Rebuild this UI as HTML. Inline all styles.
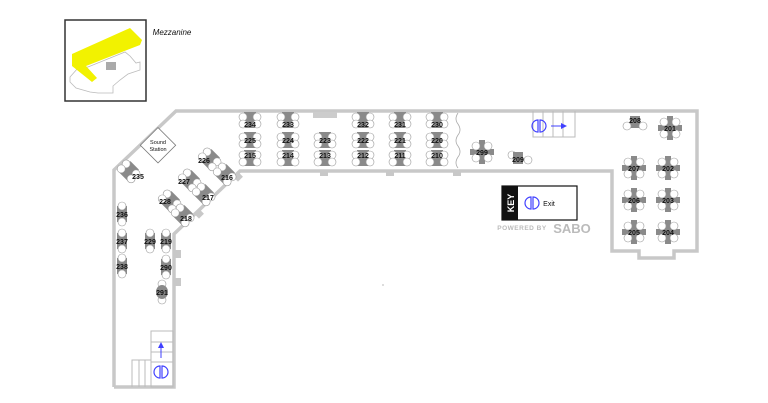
<!DOCTYPE html>
<html><head><meta charset="utf-8"><style>
html,body{margin:0;padding:0;background:#fff;width:768px;height:403px;overflow:hidden}
svg{display:block}
text{font-family:"Liberation Sans",sans-serif;font-size:7px;font-weight:bold;fill:#111;text-anchor:middle}
</style></head><body>
<svg width="768" height="403" viewBox="0 0 768 403" xmlns="http://www.w3.org/2000/svg">
<defs>
<g id="t"><rect x="-6" y="-8" width="12" height="16" fill="#8a8a8a"/><circle cx="-7" cy="-3" r="4" fill="#fff" stroke="#999" stroke-width=".6"/><circle cx="7" cy="-3" r="4" fill="#fff" stroke="#999" stroke-width=".6"/><circle cx="-7" cy="4" r="4" fill="#fff" stroke="#999" stroke-width=".6"/><circle cx="7" cy="4" r="4" fill="#fff" stroke="#999" stroke-width=".6"/></g>
<g id="c"><polygon points="-3,-12 3,-12 3,-3 12,-3 12,3 3,3 3,12 -3,12 -3,3 -12,3 -12,-3 -3,-3" fill="#8a8a8a"/><circle cx="-6" cy="-6" r="4" fill="#fff" stroke="#999" stroke-width=".6"/><circle cx="6" cy="-6" r="4" fill="#fff" stroke="#999" stroke-width=".6"/><circle cx="-6" cy="6" r="4" fill="#fff" stroke="#999" stroke-width=".6"/><circle cx="6" cy="6" r="4" fill="#fff" stroke="#999" stroke-width=".6"/></g>
<g id="v"><rect x="-5" y="-8" width="10" height="16" fill="#8a8a8a"/><circle cx="0" cy="-8" r="4" fill="#fff" stroke="#999" stroke-width=".6"/><circle cx="0" cy="8" r="4" fill="#fff" stroke="#999" stroke-width=".6"/></g>
<g id="ex" fill="none" stroke="#4040ff" stroke-width="1.2"><path d="M-1,-6 A6,6 0 0 0 -1,6 Z"/><path d="M1,-6 A6,6 0 0 1 1,6 Z"/></g>
</defs>

<!-- mezzanine -->
<rect x="65" y="20" width="81" height="81" fill="#fff" stroke="#333" stroke-width="1.5"/>
<polygon points="70,77 78,68 88,67 125,52 130,56 136,63 140,62 140,70 128,74 120,80 113,86 113,93 98,93 90,92 76,88 70,82" fill="#fff" stroke="#bbb" stroke-width=".8"/>
<polygon points="72,54 130,28 142,40 140,45 86,66 97,78 92,82 72,66" fill="#f2f200"/>
<rect x="106" y="62" width="10" height="8" fill="#aaa"/>
<text x="172" y="35" style="font-style:italic;font-weight:normal;font-size:8px">Mezzanine</text>

<!-- walls -->
<g fill="none" stroke="#c8c8c8" stroke-width="3.5">
<polyline points="114,387 114,170 176,111 697,111 697,251 674,251 674,258 639,258 639,251 612,251 612,171 240,171 174,234 174,387 114,387"/>
</g>
<rect x="313" y="112" width="24" height="6" fill="#ccc"/>
<g fill="#c8c8c8">
<rect x="320" y="171" width="8" height="5"/><rect x="386" y="171" width="8" height="5"/><rect x="453" y="171" width="8" height="5"/>
<rect x="175" y="250" width="6" height="8"/><rect x="175" y="278" width="6" height="8"/>
<rect x="235" y="173" width="7" height="7" transform="rotate(45 238 176)"/><rect x="196" y="210" width="7" height="7" transform="rotate(45 199 213)"/>
</g>
<path d="M458,113 q-4,6 0,11 q4,6 0,11 q-4,6 0,11 q4,6 0,11 q-4,6 0,11" fill="none" stroke="#aaa" stroke-width=".8"/>

<!-- sound station -->
<rect x="146" y="133" width="25" height="25" fill="#fff" stroke="#777" stroke-width=".8" transform="rotate(-45 158 146) "/>
<text x="158" y="144" style="font-weight:normal;font-size:5.5px">Sound</text>
<text x="158" y="151" style="font-weight:normal;font-size:5.5px">Station</text>

<!-- top rows -->
<g>
<use href="#t" x="250" y="120"/><use href="#t" x="288" y="120"/><use href="#t" x="363" y="120"/><use href="#t" x="400" y="120"/><use href="#t" x="437" y="120"/>
<use href="#t" x="250" y="140"/><use href="#t" x="288" y="140"/><use href="#t" x="325" y="140"/><use href="#t" x="363" y="140"/><use href="#t" x="400" y="140"/><use href="#t" x="437" y="140"/>
<use href="#t" x="250" y="158"/><use href="#t" x="288" y="158"/><use href="#t" x="325" y="158"/><use href="#t" x="363" y="158"/><use href="#t" x="400" y="158"/><use href="#t" x="437" y="158"/>
</g>
<text x="250" y="127">234</text><text x="288" y="127">233</text><text x="363" y="127">232</text><text x="400" y="127">231</text><text x="437" y="127">230</text>
<text x="250" y="143">225</text><text x="288" y="143">224</text><text x="325" y="143">223</text><text x="363" y="143">222</text><text x="400" y="143">221</text><text x="437" y="143">220</text>
<text x="250" y="158">215</text><text x="288" y="158">214</text><text x="325" y="158">213</text><text x="363" y="158">212</text><text x="400" y="158">211</text><text x="437" y="158">210</text>

<!-- diagonal tables -->
<use href="#t" transform="translate(129,171) rotate(45)"/><text x="138" y="179">235</text>
<use href="#t" transform="translate(210,159) rotate(45)"/><text x="204" y="163">226</text>
<use href="#t" transform="translate(225,174) rotate(45)"/><text x="227" y="180">216</text>
<use href="#t" transform="translate(190,180) rotate(45)"/><text x="184" y="184">227</text>
<use href="#t" transform="translate(204,194) rotate(45)"/><text x="208" y="200">217</text>
<use href="#t" transform="translate(170,201) rotate(45)"/><text x="165" y="204">228</text>
<use href="#t" transform="translate(183,215) rotate(45)"/><text x="186" y="221">218</text>

<!-- left vertical -->
<use href="#v" x="122" y="214"/><text x="122" y="217">236</text>
<use href="#v" x="122" y="241"/><text x="122" y="244">237</text>
<use href="#v" x="122" y="266"/><text x="122" y="269">238</text>
<use href="#v" x="150" y="241"/><text x="150" y="244">229</text>
<use href="#v" x="166" y="241"/><text x="166" y="244">219</text>
<use href="#v" x="166" y="267"/><text x="166" y="270">290</text>
<circle cx="162" cy="284" r="4" fill="#fff" stroke="#999" stroke-width=".6"/><circle cx="162" cy="300" r="4" fill="#fff" stroke="#999" stroke-width=".6"/>
<ellipse cx="162" cy="292" rx="6" ry="7" fill="#8a8a8a"/><text x="162" y="295">291</text>

<!-- bottom left stairs -->
<g fill="none" stroke="#bbb" stroke-width="1">
<rect x="151" y="331" width="22" height="56"/>
<line x1="151" y1="342" x2="173" y2="342"/><line x1="151" y1="352" x2="173" y2="352"/><line x1="151" y1="362" x2="173" y2="362"/>
<polyline points="151,360 132,360 132,387"/><line x1="139" y1="360" x2="139" y2="387"/><line x1="145" y1="360" x2="145" y2="387"/>
</g>
<line x1="161" y1="358" x2="161" y2="346" stroke="#4040ff" stroke-width="1"/><polygon points="158,348 164,348 161,342" fill="#4040ff"/>
<use href="#ex" x="161" y="372"/>

<!-- top stairs -->
<g fill="none" stroke="#bbb" stroke-width="1">
<polyline points="533,111 533,137 575,137 575,111"/>
<line x1="543" y1="111" x2="543" y2="137"/><line x1="553" y1="111" x2="553" y2="137"/><line x1="563" y1="111" x2="563" y2="137"/>
</g>
<use href="#ex" x="539" y="126"/>
<line x1="551" y1="126" x2="562" y2="126" stroke="#4040ff" stroke-width="1"/><polygon points="561,123 567,126 561,129" fill="#4040ff"/>

<!-- right tables -->
<use href="#c" x="482" y="152"/><text x="482" y="155">299</text>
<circle cx="512" cy="155" r="4" fill="#fff" stroke="#999" stroke-width=".6"/><circle cx="528" cy="160" r="4" fill="#fff" stroke="#999" stroke-width=".6"/>
<rect x="513" y="152" width="10" height="12" fill="#8a8a8a"/><text x="518" y="162">209</text>
<rect x="630" y="116" width="10" height="12" fill="#8a8a8a"/><circle cx="627" cy="126" r="4" fill="#fff" stroke="#999" stroke-width=".6"/><circle cx="643" cy="126" r="4" fill="#fff" stroke="#999" stroke-width=".6"/><text x="635" y="123">208</text>
<use href="#c" x="670" y="128"/><text x="670" y="131">201</text>
<use href="#c" x="634" y="168"/><text x="634" y="171">207</text>
<use href="#c" x="668" y="168"/><text x="668" y="171">202</text>
<use href="#c" x="634" y="200"/><text x="634" y="203">206</text>
<use href="#c" x="668" y="200"/><text x="668" y="203">203</text>
<use href="#c" x="634" y="232"/><text x="634" y="235">205</text>
<use href="#c" x="668" y="232"/><text x="668" y="235">204</text>

<!-- key -->
<rect x="502" y="186" width="75" height="34" fill="#fff" stroke="#111" stroke-width="1.2"/>
<rect x="502" y="186" width="16" height="34" fill="#111"/>
<text transform="translate(514,203) rotate(-90)" style="fill:#fff;font-size:9px;font-weight:bold">KEY</text>
<use href="#ex" x="532" y="203"/>
<text x="549" y="206" style="font-weight:normal;font-size:7px">Exit</text>
<text x="522" y="230" style="font-size:6.5px;fill:#bbb;letter-spacing:0.5px">POWERED BY</text>
<text x="572" y="233" style="font-size:13px;fill:#bbb">SABO</text>
<circle cx="383" cy="285" r=".6" fill="#888"/>
</svg>
</body></html>
